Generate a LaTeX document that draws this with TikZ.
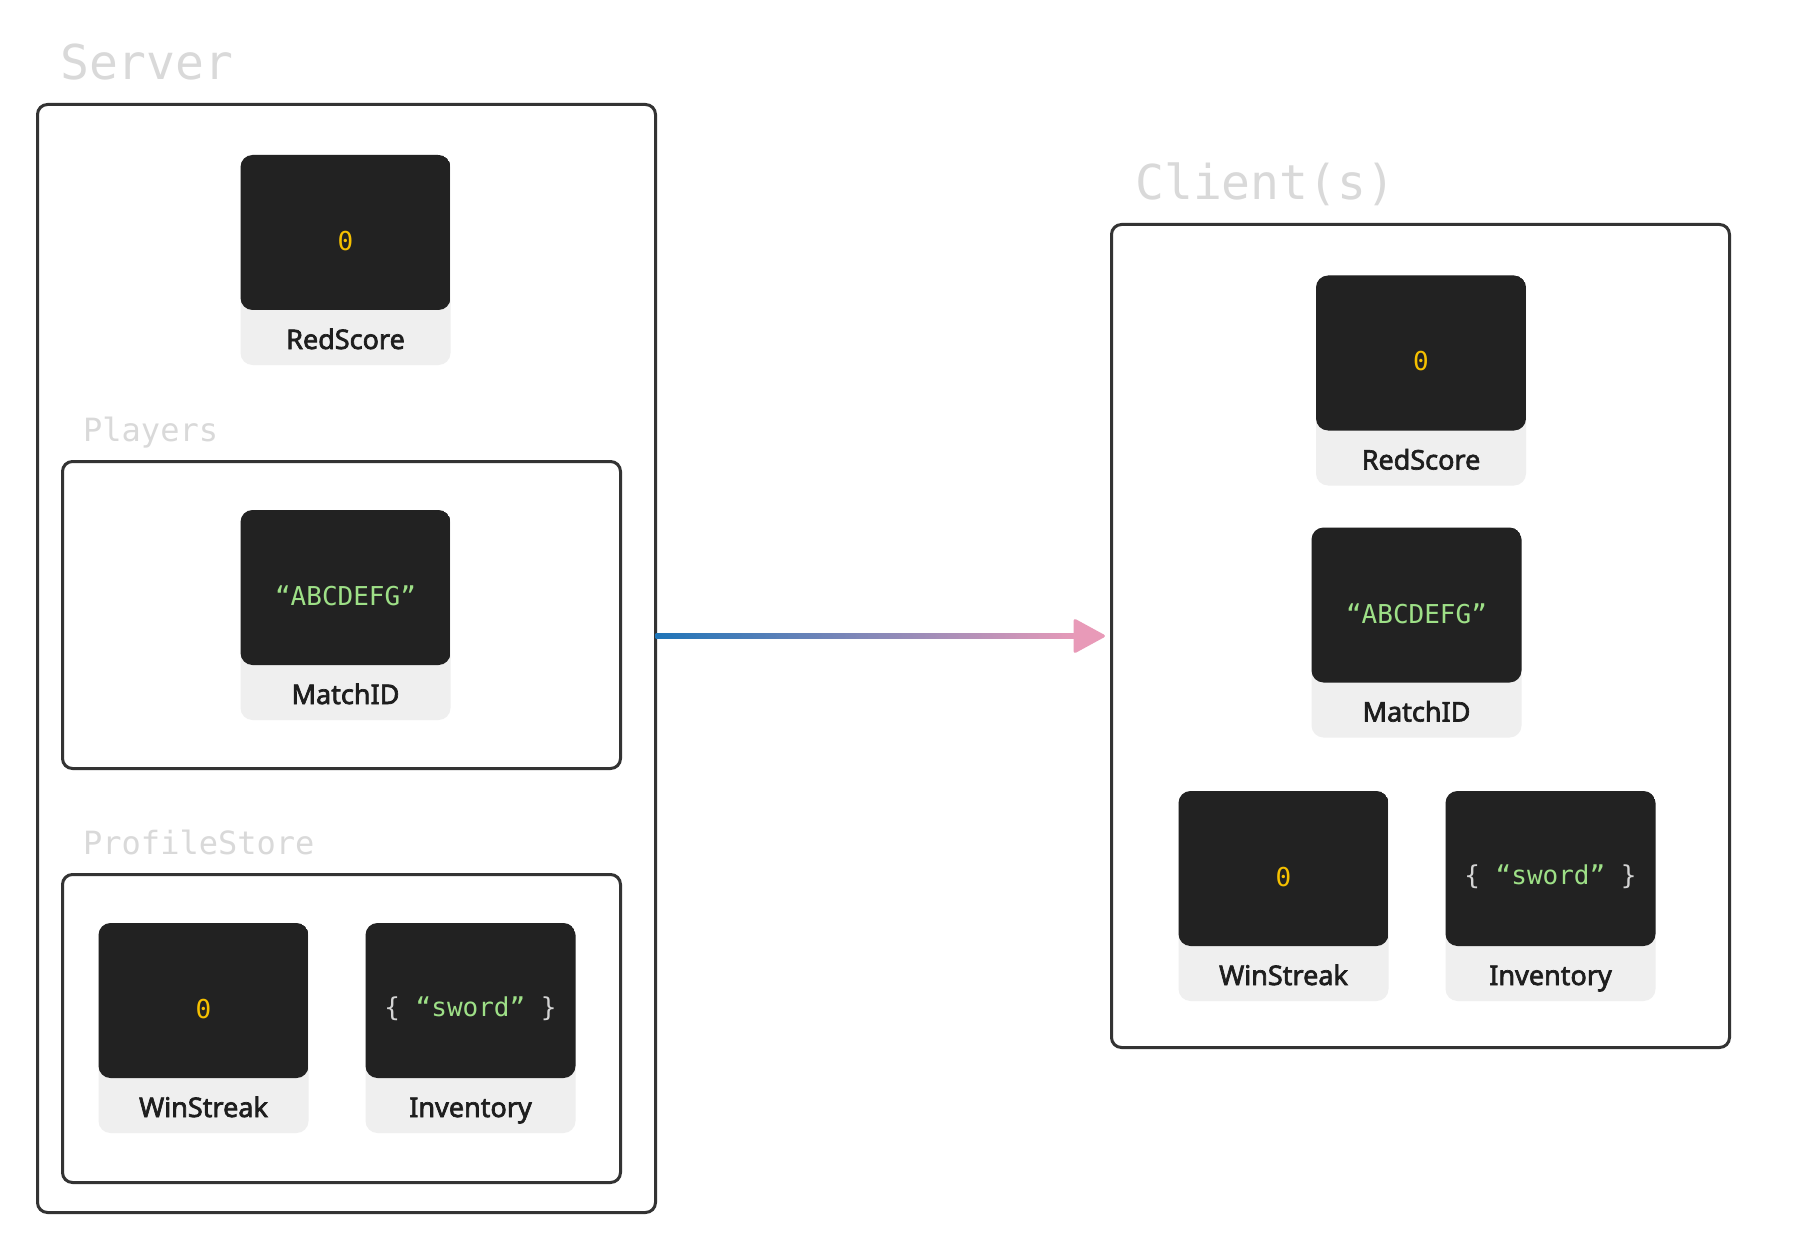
\documentclass[tikz,border=0pt]{standalone}
\usepackage{fontspec}
\setmainfont{Noto Sans}
\newfontfamily\monof{DejaVu Sans Mono}
\newfontfamily\lblf{Noto Sans}[FakeBold=2.5]
\definecolor{darkbg}{HTML}{222222}
\definecolor{lightbg}{HTML}{EFEFEF}
\definecolor{boxline}{HTML}{333333}
\definecolor{titlegray}{HTML}{D9D9D9}
\definecolor{lbltxt}{HTML}{1E1E1E}
\definecolor{valyellow}{HTML}{F5C000}
\definecolor{valgreen}{HTML}{9EE087}
\definecolor{bracegray}{HTML}{D4D4D4}
\definecolor{arrblue}{HTML}{1F75B8}
\definecolor{arrpink}{HTML}{E89AB8}
\tikzset{
  cardbox/.style={minimum width=210pt, minimum height=210pt, rounded corners=12pt,
    fill=lightbg, inner sep=0pt, outer sep=0pt,
    path picture={\fill[darkbg] (path picture bounding box.north west) rectangle ([yshift=55pt]path picture bounding box.south east);}},
  groupbox/.style={draw=boxline, line width=3pt, rounded corners=10pt, inner sep=0pt, outer sep=0pt},
  bigtitle/.style={anchor=base west, inner sep=0pt, text=titlegray, font=\monof\fontsize{48}{52}\selectfont},
  subtitle/.style={anchor=base west, inner sep=0pt, text=titlegray, font=\monof\fontsize{32}{36}\selectfont},
  valtext/.style={inner sep=0pt, font=\monof\fontsize{26}{30}\selectfont},
  lbltext/.style={anchor=base, inner sep=0pt, text=lbltxt, font=\lblf\fontsize{27}{32}\selectfont}
}
\newcommand\mkcard[4]{%
  \node[cardbox] (#1) at (#2) {};
  \node[valtext] (#1v) at ([yshift=19pt]#1.center) {#3};
  \node[lbltext] (#1l) at ([yshift=-89pt]#1.center) {#4};
}
\begin{document}
\begin{tikzpicture}[x=1pt,y=-1pt]
\useasboundingbox[fill=white] (0,0) rectangle (1813,1257);

% titles
\node[bigtitle] (tServer) at (60,80) {Server};
\node[bigtitle] (tClient) at (1135,200) {Client(s)};
\node[subtitle] (tPlayers) at (83,441) {Players};
\node[subtitle] (tProfile) at (83,854) {ProfileStore};

% group boxes
\node[groupbox, minimum width=618pt, minimum height=1108pt] (server) at (346.5,658.5) {};
\node[groupbox, minimum width=558pt, minimum height=307pt] (players) at (341.5,615) {};
\node[groupbox, minimum width=558pt, minimum height=308pt] (profile) at (341.5,1028.5) {};
\node[groupbox, minimum width=618pt, minimum height=823pt] (client) at (1420.5,636) {};

% server cards
\mkcard{sRed}{345.5,260}{\color{valyellow}0}{RedScore}
\mkcard{sMatch}{345.5,615}{\color{valgreen}“ABCDEFG”}{MatchID}
\mkcard{sWin}{203.5,1028}{\color{valyellow}0}{WinStreak}
\mkcard{sInv}{470.5,1028}{{\color{bracegray}\{} {\color{valgreen}“sword”} {\color{bracegray}\}}}{Inventory}

% client cards
\mkcard{cRed}{1421,380.5}{\color{valyellow}0}{RedScore}
\mkcard{cMatch}{1416.5,632.5}{\color{valgreen}“ABCDEFG”}{MatchID}
\mkcard{cWin}{1283.5,896}{\color{valyellow}0}{WinStreak}
\mkcard{cInv}{1550.5,896}{{\color{bracegray}\{} {\color{valgreen}“sword”} {\color{bracegray}\}}}{Inventory}

% arrow
\coordinate (aS) at (server.east |- client.west);
\coordinate (aTip) at ([xshift=-5pt]client.west);
\shade[left color=arrblue, right color=arrpink]
  ([yshift=2.8pt]aS) rectangle ([xshift=-28pt,yshift=-2.8pt]aTip);
\fill[arrpink, rounded corners=3pt] (aTip) -- ++(-33,-18) -- ++(0,36) -- cycle;
\end{tikzpicture}
\end{document}
